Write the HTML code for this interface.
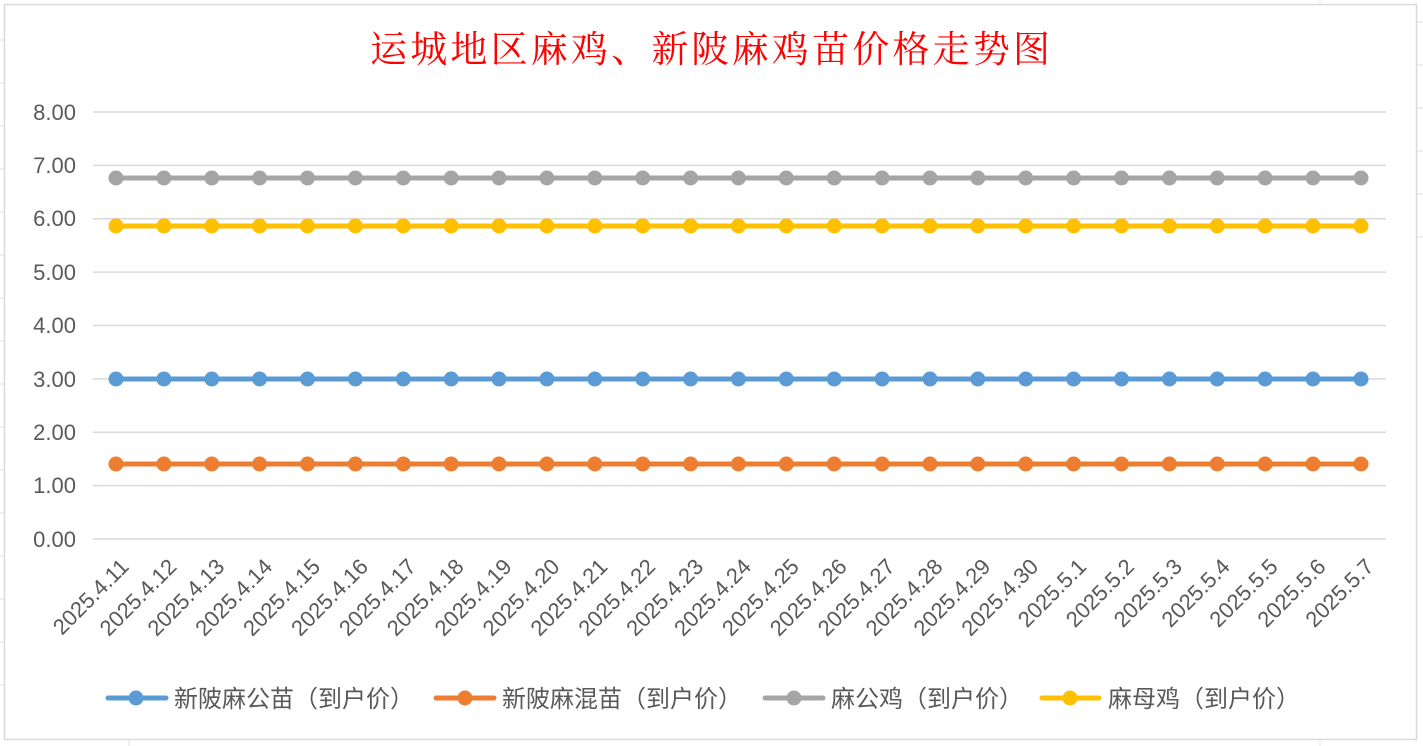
<!DOCTYPE html>
<html><head><meta charset="utf-8"><style>
html,body{margin:0;padding:0;background:#fff;}
svg{display:block;}
</style></head><body>
<svg width="1423" height="746" viewBox="0 0 1423 746" xmlns="http://www.w3.org/2000/svg">
<defs>
<marker id="mb" markerWidth="16" markerHeight="16" refX="8" refY="8" markerUnits="userSpaceOnUse"><circle cx="8" cy="8" r="7.5" fill="#5B9BD5"/></marker>
<marker id="mo" markerWidth="16" markerHeight="16" refX="8" refY="8" markerUnits="userSpaceOnUse"><circle cx="8" cy="8" r="7.5" fill="#ED7D31"/></marker>
<marker id="mg" markerWidth="16" markerHeight="16" refX="8" refY="8" markerUnits="userSpaceOnUse"><circle cx="8" cy="8" r="7.5" fill="#A5A5A5"/></marker>
<marker id="my" markerWidth="16" markerHeight="16" refX="8" refY="8" markerUnits="userSpaceOnUse"><circle cx="8" cy="8" r="7.5" fill="#FFC000"/></marker>
</defs>
<rect x="0" y="0" width="1423" height="746" fill="#fff"/>
<g stroke="#e0e0e0" stroke-width="1">
<line x1="0" y1="40" x2="4" y2="40"/><line x1="0" y1="83" x2="4" y2="83"/><line x1="0" y1="126" x2="4" y2="126"/><line x1="0" y1="169" x2="4" y2="169"/><line x1="0" y1="212" x2="4" y2="212"/><line x1="0" y1="255" x2="4" y2="255"/><line x1="0" y1="298" x2="4" y2="298"/><line x1="0" y1="341" x2="4" y2="341"/><line x1="0" y1="384" x2="4" y2="384"/><line x1="0" y1="427" x2="4" y2="427"/><line x1="0" y1="470" x2="4" y2="470"/><line x1="0" y1="513" x2="4" y2="513"/><line x1="0" y1="556" x2="4" y2="556"/><line x1="0" y1="599" x2="4" y2="599"/><line x1="0" y1="642" x2="4" y2="642"/><line x1="0" y1="685" x2="4" y2="685"/>
<line x1="1417" y1="22" x2="1423" y2="22"/><line x1="1417" y1="65" x2="1423" y2="65"/><line x1="1417" y1="108" x2="1423" y2="108"/><line x1="1417" y1="151" x2="1423" y2="151"/><line x1="1417" y1="194" x2="1423" y2="194"/><line x1="1417" y1="237" x2="1423" y2="237"/>
<line x1="129" y1="740" x2="129" y2="746"/><line x1="1320" y1="740" x2="1320" y2="746"/><line x1="1320" y1="0" x2="1320" y2="4"/>
</g>
<rect x="4.5" y="4.5" width="1412" height="735" fill="#fff" stroke="#d9d9d9" stroke-width="1.5"/>
<text x="370" y="62" textLength="680" lengthAdjust="spacing" font-family="'Liberation Serif','Noto Serif CJK SC',serif" font-size="37" fill="#FF0000">运城地区麻鸡、新陂麻鸡苗价格走势图</text>
<g stroke="#d9d9d9" stroke-width="1.5">
<line x1="93" y1="112" x2="1386" y2="112"/><line x1="93" y1="165.4" x2="1386" y2="165.4"/><line x1="93" y1="218.8" x2="1386" y2="218.8"/><line x1="93" y1="272.1" x2="1386" y2="272.1"/><line x1="93" y1="325.5" x2="1386" y2="325.5"/><line x1="93" y1="378.9" x2="1386" y2="378.9"/><line x1="93" y1="432.3" x2="1386" y2="432.3"/><line x1="93" y1="485.6" x2="1386" y2="485.6"/><line x1="93" y1="539" x2="1386" y2="539"/>
</g>
<g font-family="'Liberation Sans',sans-serif" font-size="22" fill="#595959" text-anchor="end">
<text x="76" y="120">8.00</text><text x="76" y="173">7.00</text><text x="76" y="226">6.00</text><text x="76" y="280">5.00</text><text x="76" y="333">4.00</text><text x="76" y="387">3.00</text><text x="76" y="440">2.00</text><text x="76" y="493">1.00</text><text x="76" y="547">0.00</text>
</g>
<g fill="none" stroke-width="5">
<polyline stroke="#A5A5A5" marker-start="url(#mg)" marker-mid="url(#mg)" marker-end="url(#mg)" points="116,178 163.9,178 211.8,178 259.6,178 307.5,178 355.4,178 403.3,178 451.2,178 499,178 546.9,178 594.8,178 642.7,178 690.6,178 738.4,178 786.3,178 834.2,178 882.1,178 930,178 977.8,178 1025.7,178 1073.6,178 1121.5,178 1169.4,178 1217.2,178 1265.1,178 1313,178 1361,178"/>
<polyline stroke="#FFC000" marker-start="url(#my)" marker-mid="url(#my)" marker-end="url(#my)" points="116,226 163.9,226 211.8,226 259.6,226 307.5,226 355.4,226 403.3,226 451.2,226 499,226 546.9,226 594.8,226 642.7,226 690.6,226 738.4,226 786.3,226 834.2,226 882.1,226 930,226 977.8,226 1025.7,226 1073.6,226 1121.5,226 1169.4,226 1217.2,226 1265.1,226 1313,226 1361,226"/>
<polyline stroke="#5B9BD5" marker-start="url(#mb)" marker-mid="url(#mb)" marker-end="url(#mb)" points="116,379 163.9,379 211.8,379 259.6,379 307.5,379 355.4,379 403.3,379 451.2,379 499,379 546.9,379 594.8,379 642.7,379 690.6,379 738.4,379 786.3,379 834.2,379 882.1,379 930,379 977.8,379 1025.7,379 1073.6,379 1121.5,379 1169.4,379 1217.2,379 1265.1,379 1313,379 1361,379"/>
<polyline stroke="#ED7D31" marker-start="url(#mo)" marker-mid="url(#mo)" marker-end="url(#mo)" points="116,464 163.9,464 211.8,464 259.6,464 307.5,464 355.4,464 403.3,464 451.2,464 499,464 546.9,464 594.8,464 642.7,464 690.6,464 738.4,464 786.3,464 834.2,464 882.1,464 930,464 977.8,464 1025.7,464 1073.6,464 1121.5,464 1169.4,464 1217.2,464 1265.1,464 1313,464 1361,464"/>
</g>
<g font-family="'Liberation Sans',sans-serif" font-size="22" fill="#595959" text-anchor="end">
<text transform="translate(130,568) rotate(-45)">2025.4.11</text>
<text transform="translate(177.9,568) rotate(-45)">2025.4.12</text>
<text transform="translate(225.8,568) rotate(-45)">2025.4.13</text>
<text transform="translate(273.6,568) rotate(-45)">2025.4.14</text>
<text transform="translate(321.5,568) rotate(-45)">2025.4.15</text>
<text transform="translate(369.4,568) rotate(-45)">2025.4.16</text>
<text transform="translate(417.3,568) rotate(-45)">2025.4.17</text>
<text transform="translate(465.2,568) rotate(-45)">2025.4.18</text>
<text transform="translate(513,568) rotate(-45)">2025.4.19</text>
<text transform="translate(560.9,568) rotate(-45)">2025.4.20</text>
<text transform="translate(608.8,568) rotate(-45)">2025.4.21</text>
<text transform="translate(656.7,568) rotate(-45)">2025.4.22</text>
<text transform="translate(704.6,568) rotate(-45)">2025.4.23</text>
<text transform="translate(752.4,568) rotate(-45)">2025.4.24</text>
<text transform="translate(800.3,568) rotate(-45)">2025.4.25</text>
<text transform="translate(848.2,568) rotate(-45)">2025.4.26</text>
<text transform="translate(896.1,568) rotate(-45)">2025.4.27</text>
<text transform="translate(944,568) rotate(-45)">2025.4.28</text>
<text transform="translate(991.8,568) rotate(-45)">2025.4.29</text>
<text transform="translate(1039.7,568) rotate(-45)">2025.4.30</text>
<text transform="translate(1087.6,568) rotate(-45)">2025.5.1</text>
<text transform="translate(1135.5,568) rotate(-45)">2025.5.2</text>
<text transform="translate(1183.4,568) rotate(-45)">2025.5.3</text>
<text transform="translate(1231.2,568) rotate(-45)">2025.5.4</text>
<text transform="translate(1279.1,568) rotate(-45)">2025.5.5</text>
<text transform="translate(1327,568) rotate(-45)">2025.5.6</text>
<text transform="translate(1375,568) rotate(-45)">2025.5.7</text>
</g>
<g stroke-width="5" stroke-linecap="round">
<line x1="108" y1="698" x2="166" y2="698" stroke="#5B9BD5"/><circle cx="136" cy="698" r="7.5" fill="#5B9BD5"/>
<line x1="436" y1="698" x2="494" y2="698" stroke="#ED7D31"/><circle cx="465" cy="698" r="7.5" fill="#ED7D31"/>
<line x1="765" y1="698" x2="823" y2="698" stroke="#A5A5A5"/><circle cx="794" cy="698" r="7.5" fill="#A5A5A5"/>
<line x1="1042" y1="698" x2="1099" y2="698" stroke="#FFC000"/><circle cx="1070" cy="698" r="7.5" fill="#FFC000"/>
</g>
<g font-family="'Liberation Sans','Noto Sans CJK SC',sans-serif" font-size="24" fill="#595959">
<text x="174" y="707">新陂麻公苗（到户价）</text>
<text x="502" y="707">新陂麻混苗（到户价）</text>
<text x="831" y="707">麻公鸡（到户价）</text>
<text x="1108" y="707">麻母鸡（到户价）</text>
</g>
</svg>
</body></html>
